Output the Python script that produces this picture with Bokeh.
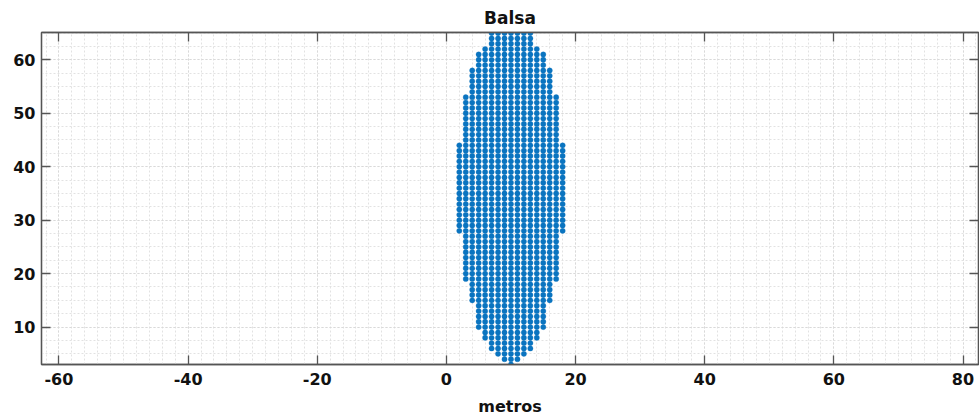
from bokeh.plotting import figure
from bokeh.models import LinearAxis, SingleIntervalTicker, Range1d, ColumnDataSource
from bokeh.embed import file_html
from bokeh.resources import INLINE

# Rows of the point cloud (metres): y level, left-most x, right-most x
row_y = list(range(3, 66))
row_xmin = [10, 9, 8, 7, 7, 6, 6,
            5, 5, 5, 5, 5,
            4, 4, 4, 4,
            3, 3, 3, 3, 3, 3, 3, 3, 3,
            2, 2, 2, 2, 2, 2, 2, 2, 2, 2, 2, 2, 2, 2, 2, 2, 2,
            3, 3, 3, 3, 3, 3, 3, 3, 3,
            4, 4, 4, 4, 4,
            5, 5, 5,
            6,
            7, 7, 7]
row_xmax = [10, 11, 12, 13, 13, 14, 14,
            15, 15, 15, 15, 15,
            16, 16, 16, 16,
            17, 17, 17, 17, 17, 17, 17, 17, 17,
            18, 18, 18, 18, 18, 18, 18, 18, 18, 18, 18, 18, 18, 18, 18, 18, 18,
            17, 17, 17, 17, 17, 17, 17, 17, 17,
            16, 16, 16, 16, 16,
            15, 15, 15,
            14,
            13, 13, 13]
x_step = 1

x_ticks = [-60, -40, -20, 0, 20, 40, 60, 80]
x_tick_labels = ["-60", "-40", "-20", "0", "20", "40", "60", "80"]

xs, ys = [], []
for yv, a, b in zip(row_y, row_xmin, row_xmax):
    v = a
    while v <= b:
        xs.append(v)
        ys.append(yv)
        v += x_step

FONT = "DejaVu Sans"
AX = "#555555"
TXT = "#111111"

p = figure(width=979, height=420, x_range=Range1d(-62.7, 82.4), y_range=Range1d(3.0, 65.1),
           output_backend="svg", toolbar_location=None, title="Balsa",
           min_border_left=41, min_border_right=1, min_border_top=32, min_border_bottom=56)
p.background_fill_color = "white"
p.border_fill_color = "white"
p.outline_line_color = AX
p.outline_line_width = 1.3

xt = SingleIntervalTicker(interval=20, num_minor_ticks=10)
yt = SingleIntervalTicker(interval=10, num_minor_ticks=4)
p.xaxis.ticker = xt
p.yaxis.ticker = yt
p.xgrid.ticker = xt
p.ygrid.ticker = yt

for g in (p.xgrid, p.ygrid):
    g.grid_line_color = "#d9d9d9"
    g.grid_line_dash = "2 2"
    g.grid_line_width = 1
    g.minor_grid_line_color = "#e2e2e2"
    g.minor_grid_line_dash = "2 2"
    g.minor_grid_line_width = 1

def style_axis(ax, labels=True):
    ax.axis_line_color = AX
    ax.axis_line_width = 1.3
    ax.major_tick_line_color = AX
    ax.major_tick_line_width = 1.3
    ax.major_tick_in = 9
    ax.major_tick_out = 0
    ax.minor_tick_in = 0
    ax.minor_tick_out = 0
    ax.major_label_text_font = FONT
    ax.major_label_text_font_style = "bold"
    if labels:
        ax.major_label_text_color = TXT
        ax.major_label_text_font_size = "16px"
        ax.major_label_standoff = 6
    else:
        ax.major_label_text_color = None
        ax.major_label_text_font_size = "1px"
        ax.major_label_standoff = 0

style_axis(p.xaxis[0])
p.xaxis[0].major_label_standoff = 8
p.xaxis[0].major_label_overrides = {t: s for t, s in zip(x_ticks, x_tick_labels)}
style_axis(p.yaxis[0])
p.xaxis.axis_label = "metros"
p.xaxis.axis_label_text_font = FONT
p.xaxis.axis_label_text_font_style = "bold"
p.xaxis.axis_label_text_font_size = "16px"
p.xaxis.axis_label_text_color = TXT
p.xaxis.axis_label_standoff = 9

top = LinearAxis(ticker=xt)
style_axis(top, labels=False)
p.add_layout(top, "above")
right = LinearAxis(ticker=yt)
style_axis(right, labels=False)
p.add_layout(right, "right")

p.title.text_font = FONT
p.title.text_font_style = "bold"
p.title.text_font_size = "17px"
p.title.text_color = TXT
p.title.align = "center"
p.title.standoff = 9

src = ColumnDataSource(dict(x=xs, y=ys))
p.scatter("x", "y", source=src, size=5.3, fill_color="#0a74c0", line_color="#0a74c0",
          line_width=0.3)

open("out.html", "w").write(file_html(p, INLINE))
